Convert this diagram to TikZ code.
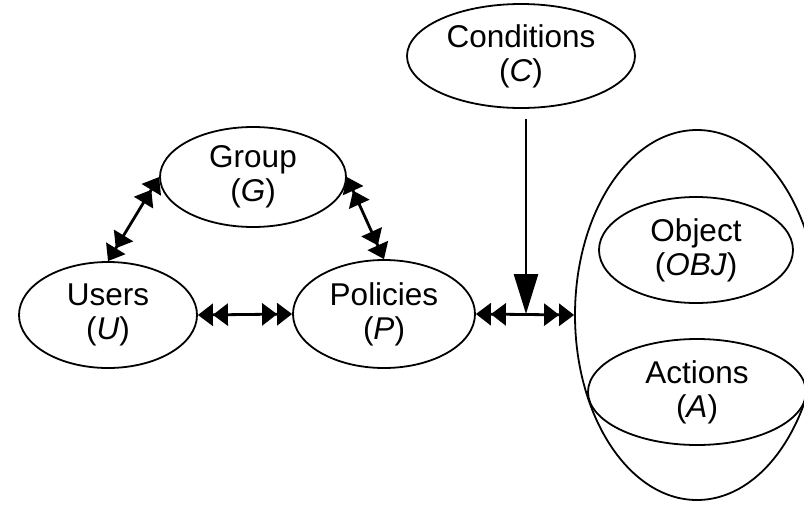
\documentclass[tikz,border=0pt]{standalone}
\usepackage{fontspec}
\setmainfont{Liberation Sans}
\usetikzlibrary{shapes.geometric,arrows.meta}
\tikzset{
  oval/.style={draw, ellipse, inner sep=0pt, line width=1.8pt, align=center,
    font=\fontsize{31.5}{34}\selectfont},
  dbl/.style={line width=2.8pt,
    {Triangle[length=15pt,width=22pt]Triangle[length=15pt,width=22pt]}-{Triangle[length=15pt,width=22pt]Triangle[length=15pt,width=22pt]}},
  down/.style={line width=2.8pt, -{Triangle[length=40pt,width=24pt]}},
}
\begin{document}
\begin{tikzpicture}[x=1pt,y=-1pt]
\useasboundingbox (0,0) rectangle (804,504);
\clip (0,0) rectangle (804,504);
% attribute sets
\node[oval, minimum width=228pt, minimum height=104pt] (cond)  at (521,56)  {Conditions\\(\textit{C})};
\node[oval, minimum width=186pt, minimum height=100pt] (group) at (253,177) {Group\\(\textit{G})};
\node[oval, minimum width=178pt, minimum height=106pt] (users) at (108,315) {Users\\(\textit{U})};
\node[oval, minimum width=182pt, minimum height=108pt] (pol)   at (384,314) {Policies\\(\textit{P})};
% resource: object and actions
\node[oval, minimum width=244pt, minimum height=370pt] (res) at (697,315) {};
\node[oval, minimum width=194pt, minimum height=106pt] (obj) at (696,250) {Object\\(\textit{OBJ})};
\node[oval, minimum width=218pt, minimum height=106pt] (act) at (697,392) {Actions\\(\textit{A})};
% relations
\coordinate (mid) at (526,314);
\draw[dbl] (users.east) -- (pol.west);
\draw[dbl] (users.north) -- (group.west);
\draw[dbl] (group.east) -- (pol.north);
\draw[dbl] (pol.east) -- (res.west);
\draw[down, shorten <=10pt] (cond.south -| mid) -- (mid);
\end{tikzpicture}
\end{document}
